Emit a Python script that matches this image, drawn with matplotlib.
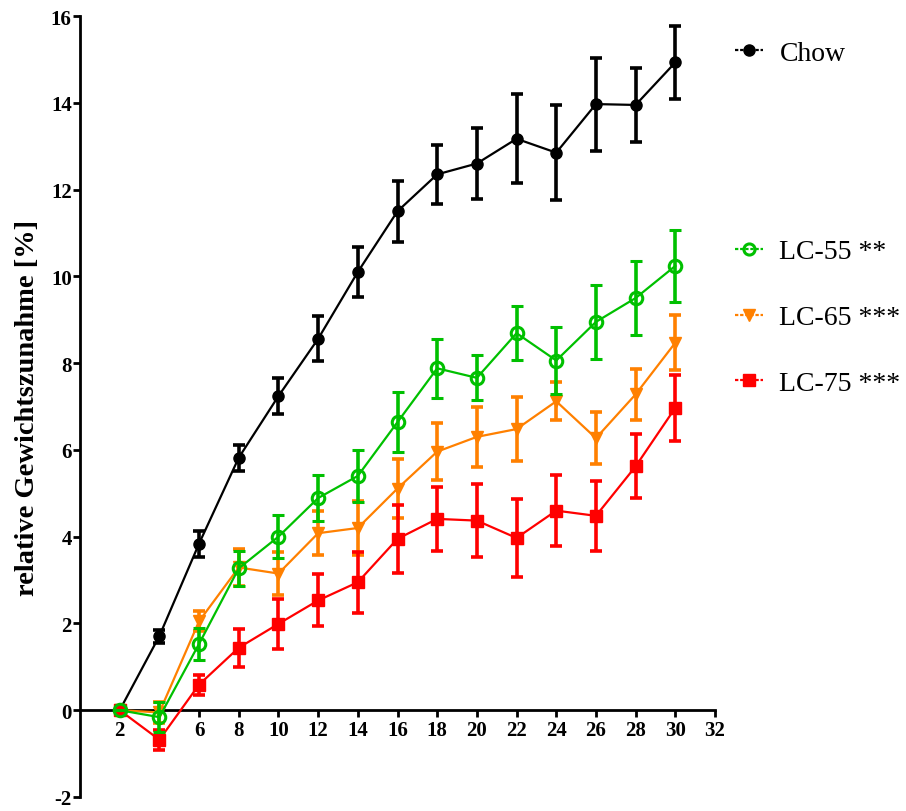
import matplotlib
matplotlib.use("Agg")
import matplotlib.pyplot as plt
from matplotlib.lines import Line2D

plt.rcParams['font.family'] = ['Liberation Serif', 'DejaVu Serif']
plt.rcParams['axes.unicode_minus'] = False

# Daten
tage = [2, 4, 6, 8, 10, 12, 14, 16, 18, 20, 22, 24, 26, 28, 30]

chow = [0, 1.71, 3.84, 5.82, 7.24, 8.56, 10.1, 11.5, 12.35, 12.6, 13.17, 12.85, 13.97, 13.95, 14.93]
chow_err = [0, 0.15, 0.3, 0.3, 0.42, 0.52, 0.58, 0.7, 0.68, 0.82, 1.03, 1.1, 1.07, 0.85, 0.85]

lc55 = [0, -0.16, 1.53, 3.27, 4.0, 4.89, 5.4, 6.64, 7.88, 7.66, 8.69, 8.06, 8.95, 9.5, 10.24]
lc55_err = [0, 0.34, 0.37, 0.4, 0.5, 0.53, 0.6, 0.7, 0.68, 0.52, 0.62, 0.78, 0.85, 0.85, 0.83]

lc65 = [0, -0.05, 2.05, 3.29, 3.15, 4.08, 4.2, 5.11, 5.96, 6.3, 6.48, 7.12, 6.27, 7.28, 8.47]
lc65_err = [0, 0.25, 0.23, 0.42, 0.5, 0.51, 0.62, 0.68, 0.65, 0.7, 0.73, 0.44, 0.6, 0.58, 0.63]

lc75 = [0, -0.68, 0.59, 1.44, 1.99, 2.53, 2.95, 3.95, 4.41, 4.37, 3.97, 4.6, 4.48, 5.62, 6.97]
lc75_err = [0, 0.23, 0.23, 0.44, 0.58, 0.6, 0.7, 0.78, 0.73, 0.85, 0.89, 0.81, 0.8, 0.74, 0.76]

x_ticks = list(range(2, 33, 2))
x_labels = ["" if t == 4 else str(t) for t in x_ticks]
y_ticks = list(range(-2, 17, 2))

GRUEN = "#00C000"
ORANGE = "#FF8000"
ROT = "#FF0000"

fig = plt.figure(figsize=(9.06, 8.12), dpi=100)
ax = fig.add_axes([80 / 906, 14 / 812, 635 / 906, 781 / 812])

stil = dict(lw=1.6, elinewidth=2.6, capsize=4.5, capthick=2.6)

ax.errorbar(tage, chow, yerr=chow_err, color="black", marker="o", ms=8,
            zorder=2, **stil)
ax.errorbar(tage, lc65, yerr=lc65_err, color=ORANGE, marker="v", ms=8,
            zorder=3, **stil)
ax.errorbar(tage, lc75, yerr=lc75_err, color=ROT, marker="s", ms=8,
            zorder=4, **stil)
ax.errorbar(tage, lc55, yerr=lc55_err, color=GRUEN, marker="o", ms=9,
            mfc="none", mew=2.2, zorder=5, **stil)

ax.set_xlim(0, 32)
ax.set_ylim(-2, 16)
ax.spines['top'].set_visible(False)
ax.spines['right'].set_visible(False)
ax.spines['bottom'].set_position(('data', 0))
ax.spines['left'].set_linewidth(2)
ax.spines['bottom'].set_linewidth(2)

ax.set_xticks(x_ticks)
ax.set_xticklabels(x_labels)
ax.set_yticks(y_ticks)
ax.tick_params(axis='x', direction='out', length=5, width=2, pad=2, labelsize=15)
ax.tick_params(axis='y', direction='out', length=5, width=2, pad=1, labelsize=15)
for lbl in ax.get_xticklabels() + ax.get_yticklabels():
    lbl.set_fontweight('bold')

ax.set_ylabel("relative Gewichtszunahme [%]", fontsize=20.5, fontweight='bold')
ax.yaxis.set_label_coords(-0.063, 0.5)

# Legende
def griff(farbe, marker, offen=False):
    return Line2D([0], [0], color=farbe, lw=1.6, ls=(0, (1.5, 0.8)), marker=marker, ms=8,
                  mfc="none" if offen else farbe, mew=2.2 if offen else 1)

leg_opts = dict(frameon=False, fontsize=20, handlelength=1.0, handletextpad=0.6,
                borderpad=0, borderaxespad=0, loc='center left')

fig.legend([griff("black", "o")], ["Chow"],
           bbox_to_anchor=(735 / 906, 1 - 54 / 812), **leg_opts)
fig.legend([griff(GRUEN, "o", True), griff(ORANGE, "v"), griff(ROT, "s")],
           ["LC-55 **", "LC-65 ***", "LC-75 ***"], labelspacing=1.45,
           bbox_to_anchor=(735 / 906, 1 - 318.5 / 812), **leg_opts)

fig.savefig("out.png", dpi=100)
